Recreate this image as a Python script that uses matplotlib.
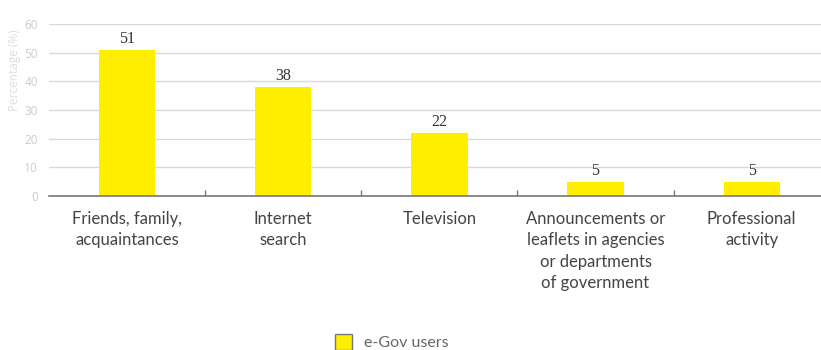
import matplotlib
matplotlib.use("Agg")
import matplotlib.pyplot as plt
from matplotlib.patches import Patch

categories = [
    "Friends, family,\nacquaintances",
    "Internet\nsearch",
    "Television",
    "Announcements or\nleaflets in agencies\nor departments\nof government",
    "Professional\nactivity",
]
values = [51, 38, 22, 5, 5]
series_name = "e-Gov users"
yticks = [0, 10, 20, 30, 40, 50, 60]

bar_color = "#FFEE00"

fig = plt.figure(figsize=(8.21, 3.5), dpi=100)
ax = fig.add_axes([0.0597, 0.44, 0.951, 0.491])

x = list(range(len(categories)))
ax.bar(x, values, width=0.36, color=bar_color, zorder=3)

for xi, v in zip(x, values):
    ax.text(xi, v + 1.0, str(v), ha="center", va="bottom",
            fontsize=11.5, color="#333333", family="Liberation Serif")

ax.set_xlim(-0.5, len(categories) - 0.5)
ax.set_ylim(0, 60)
ax.set_yticks(yticks)
ax.set_yticklabels([str(t) for t in yticks], color="#cccccc", fontsize=8.5,
                   family="Open Sans")
ax.yaxis.grid(True, color="#d9d9d9", linewidth=1.0, zorder=0)
ax.tick_params(axis="y", length=0, pad=8)

# category separators as minor ticks on the baseline
ax.set_xticks([i + 0.5 for i in range(len(categories) - 1)], minor=True)
ax.set_xticks(x)
ax.set_xticklabels(categories, fontsize=12, color="#444444", family="Lato",
                   linespacing=1.4, va="top")
ax.tick_params(axis="x", which="major", length=0, pad=11)
ax.tick_params(axis="x", which="minor", length=4, direction="in",
               color="#777777", width=1)

for s in ["top", "right", "left"]:
    ax.spines[s].set_visible(False)
ax.spines["bottom"].set_color("#777777")
ax.spines["bottom"].set_linewidth(1.2)
ax.spines["bottom"].set_zorder(4)

fig.text(0.018, 0.8, "Percentage (%)", rotation=90, ha="center", va="center",
         fontsize=8.5, color="#dddddd", family="Open Sans")

handle = Patch(facecolor=bar_color, edgecolor="#777777", linewidth=1.0)
fig.legend([handle], [series_name], loc="center", bbox_to_anchor=(0.477, 0.022),
           frameon=False, handlelength=1.1, handleheight=1.1,
           handletextpad=0.7, labelcolor="#666666",
           prop={"family": "Lato", "size": 11.5})

fig.savefig("out.png", dpi=100)
